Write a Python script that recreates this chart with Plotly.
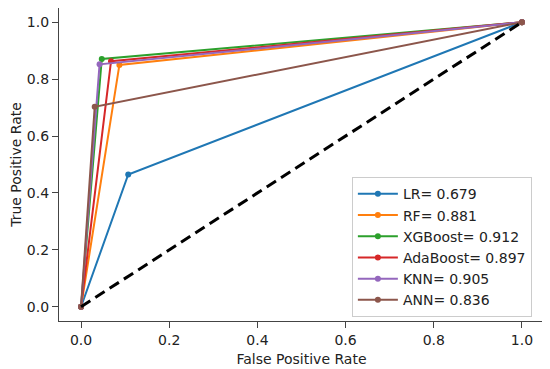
import plotly.graph_objects as go

models = ["LR", "RF", "XGBoost", "AdaBoost", "KNN", "ANN"]
auc = ["0.679", "0.881", "0.912", "0.897", "0.905", "0.836"]
fpr = [[0.0, 0.107, 1.0], [0.0, 0.087, 1.0], [0.0, 0.047, 1.0],
       [0.0, 0.068, 1.0], [0.0, 0.042, 1.0], [0.0, 0.031, 1.0]]
tpr = [[0.0, 0.465, 1.0], [0.0, 0.850, 1.0], [0.0, 0.871, 1.0],
       [0.0, 0.863, 1.0], [0.0, 0.852, 1.0], [0.0, 0.703, 1.0]]
chance_x = [0.0, 1.0]
chance_y = [0.0, 1.0]
ticks = [0.0, 0.2, 0.4, 0.6, 0.8, 1.0]
tick_labels = ["0.0", "0.2", "0.4", "0.6", "0.8", "1.0"]

colors = ["#1f77b4", "#ff7f0e", "#2ca02c", "#d62728", "#9467bd", "#8c564b"]
FONT = "DejaVu Sans"

fig = go.Figure()
for m, a, xs, ys, c in zip(models, auc, fpr, tpr, colors):
    fig.add_trace(go.Scatter(
        x=xs, y=ys, mode="lines+markers", name=f"{m}= {a}",
        line=dict(color=c, width=2), marker=dict(color=c, size=6),
    ))
fig.add_trace(go.Scatter(
    x=chance_x, y=chance_y, mode="lines", showlegend=False,
    line=dict(color="black", width=3, dash="11px,6px"),
))

axis_common = dict(
    showgrid=False, zeroline=False, showline=True, linecolor="#444",
    linewidth=1.2, mirror=True, ticks="outside", ticklen=6, tickcolor="#444",
    tickvals=ticks, ticktext=tick_labels, automargin=False,
    tickfont=dict(family=FONT, size=14, color="#222"),
)
fig.update_xaxes(range=[-0.05, 1.05], title=dict(text="False Positive Rate",
                 font=dict(family=FONT, size=14, color="#222"), standoff=7),
                 **axis_common)
fig.update_yaxes(range=[-0.05, 1.05], title=dict(text="True Positive Rate",
                 font=dict(family=FONT, size=14, color="#222"), standoff=14),
                 **axis_common)

# the page body adds an 8px offset, so the figure is sized to fit the window
fig.update_layout(
    width=542, height=361,
    margin=dict(l=51, r=6, t=0, b=48),
    plot_bgcolor="white", paper_bgcolor="white",
    font=dict(family=FONT, size=14, color="#222"),
    legend=dict(x=0.975, y=0.012, xanchor="right", yanchor="bottom",
                bgcolor="rgba(255,255,255,0.8)", bordercolor="#ccc", borderwidth=1,
                font=dict(family=FONT, size=14, color="#222"),
                tracegroupgap=0, itemwidth=40),
)

fig.write_html("out.html")
